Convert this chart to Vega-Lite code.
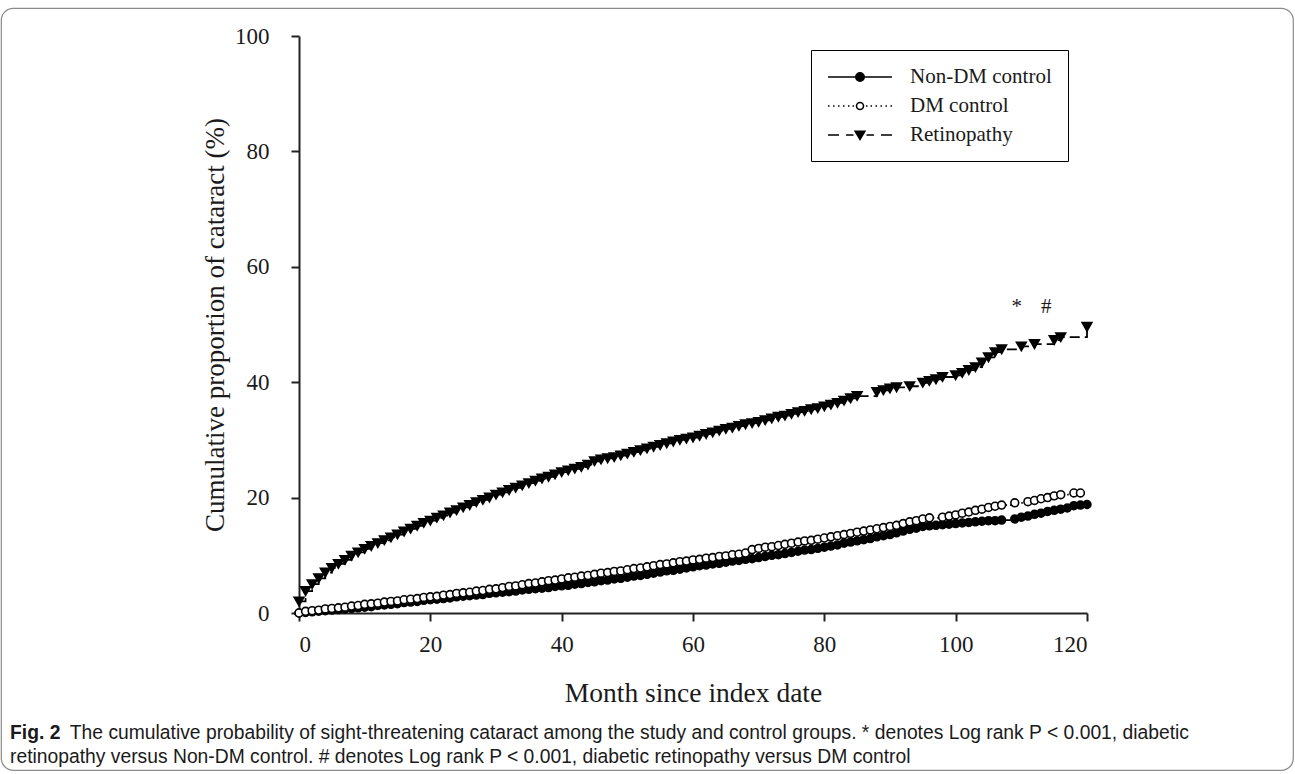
{
  "$schema": "https://vega.github.io/schema/vega-lite/v6.json",
  "width": 1292,
  "height": 762,
  "autosize": {"type": "none"},
  "padding": {"left": 1, "top": 8, "right": 2, "bottom": 4},
  "background": "white",
  "config": {
    "view": {"stroke": "#8a8a8a", "strokeWidth": 1.2, "cornerRadius": 12, "fill": "white"},
    "font": "Liberation Serif"
  },
  "datasets": {
    "curves": [
      {"group":"Non-DM control","month":0,"pct":0.0},{"group":"Non-DM control","month":1,"pct":0.1},{"group":"Non-DM control","month":2,"pct":0.2},{"group":"Non-DM control","month":3,"pct":0.3},{"group":"Non-DM control","month":4,"pct":0.4},{"group":"Non-DM control","month":5,"pct":0.5},{"group":"Non-DM control","month":6,"pct":0.6},{"group":"Non-DM control","month":7,"pct":0.7},{"group":"Non-DM control","month":8,"pct":0.8},{"group":"Non-DM control","month":9,"pct":0.9},
      {"group":"Non-DM control","month":10,"pct":1.0},{"group":"Non-DM control","month":11,"pct":1.1},{"group":"Non-DM control","month":12,"pct":1.3},{"group":"Non-DM control","month":13,"pct":1.4},{"group":"Non-DM control","month":14,"pct":1.5},{"group":"Non-DM control","month":15,"pct":1.6},{"group":"Non-DM control","month":16,"pct":1.8},{"group":"Non-DM control","month":17,"pct":1.9},{"group":"Non-DM control","month":18,"pct":2.0},{"group":"Non-DM control","month":19,"pct":2.2},
      {"group":"Non-DM control","month":20,"pct":2.3},{"group":"Non-DM control","month":21,"pct":2.4},{"group":"Non-DM control","month":22,"pct":2.5},{"group":"Non-DM control","month":23,"pct":2.6},{"group":"Non-DM control","month":24,"pct":2.8},{"group":"Non-DM control","month":25,"pct":2.9},{"group":"Non-DM control","month":26,"pct":3.0},{"group":"Non-DM control","month":27,"pct":3.1},{"group":"Non-DM control","month":28,"pct":3.2},{"group":"Non-DM control","month":29,"pct":3.4},
      {"group":"Non-DM control","month":30,"pct":3.5},{"group":"Non-DM control","month":31,"pct":3.6},{"group":"Non-DM control","month":32,"pct":3.7},{"group":"Non-DM control","month":33,"pct":3.8},{"group":"Non-DM control","month":34,"pct":4.0},{"group":"Non-DM control","month":35,"pct":4.1},{"group":"Non-DM control","month":36,"pct":4.2},{"group":"Non-DM control","month":37,"pct":4.3},{"group":"Non-DM control","month":38,"pct":4.4},{"group":"Non-DM control","month":39,"pct":4.6},
      {"group":"Non-DM control","month":40,"pct":4.7},{"group":"Non-DM control","month":41,"pct":4.8},{"group":"Non-DM control","month":42,"pct":5.0},{"group":"Non-DM control","month":43,"pct":5.1},{"group":"Non-DM control","month":44,"pct":5.3},{"group":"Non-DM control","month":45,"pct":5.4},{"group":"Non-DM control","month":46,"pct":5.6},{"group":"Non-DM control","month":47,"pct":5.7},{"group":"Non-DM control","month":48,"pct":5.9},{"group":"Non-DM control","month":49,"pct":6.0},
      {"group":"Non-DM control","month":50,"pct":6.2},{"group":"Non-DM control","month":51,"pct":6.4},{"group":"Non-DM control","month":52,"pct":6.5},{"group":"Non-DM control","month":53,"pct":6.7},{"group":"Non-DM control","month":54,"pct":6.9},{"group":"Non-DM control","month":55,"pct":7.1},{"group":"Non-DM control","month":56,"pct":7.3},{"group":"Non-DM control","month":57,"pct":7.4},{"group":"Non-DM control","month":58,"pct":7.6},{"group":"Non-DM control","month":59,"pct":7.8},
      {"group":"Non-DM control","month":60,"pct":8.0},{"group":"Non-DM control","month":61,"pct":8.2},{"group":"Non-DM control","month":62,"pct":8.3},{"group":"Non-DM control","month":63,"pct":8.5},{"group":"Non-DM control","month":64,"pct":8.6},{"group":"Non-DM control","month":65,"pct":8.8},{"group":"Non-DM control","month":66,"pct":9.0},{"group":"Non-DM control","month":67,"pct":9.1},{"group":"Non-DM control","month":68,"pct":9.3},{"group":"Non-DM control","month":69,"pct":9.4},
      {"group":"Non-DM control","month":70,"pct":9.6},{"group":"Non-DM control","month":71,"pct":9.8},{"group":"Non-DM control","month":72,"pct":10.0},{"group":"Non-DM control","month":73,"pct":10.1},{"group":"Non-DM control","month":74,"pct":10.3},{"group":"Non-DM control","month":75,"pct":10.5},{"group":"Non-DM control","month":76,"pct":10.7},{"group":"Non-DM control","month":77,"pct":10.9},{"group":"Non-DM control","month":78,"pct":11.0},{"group":"Non-DM control","month":79,"pct":11.2},
      {"group":"Non-DM control","month":80,"pct":11.4},{"group":"Non-DM control","month":81,"pct":11.6},{"group":"Non-DM control","month":82,"pct":11.8},{"group":"Non-DM control","month":83,"pct":12.1},{"group":"Non-DM control","month":84,"pct":12.3},{"group":"Non-DM control","month":85,"pct":12.5},{"group":"Non-DM control","month":86,"pct":12.7},{"group":"Non-DM control","month":87,"pct":12.9},{"group":"Non-DM control","month":88,"pct":13.2},{"group":"Non-DM control","month":89,"pct":13.4},
      {"group":"Non-DM control","month":90,"pct":13.6},{"group":"Non-DM control","month":91,"pct":13.9},{"group":"Non-DM control","month":92,"pct":14.2},{"group":"Non-DM control","month":93,"pct":14.5},{"group":"Non-DM control","month":94,"pct":14.7},{"group":"Non-DM control","month":95,"pct":15.0},{"group":"Non-DM control","month":96,"pct":15.1},{"group":"Non-DM control","month":97,"pct":15.2},{"group":"Non-DM control","month":98,"pct":15.3},{"group":"Non-DM control","month":99,"pct":15.4},
      {"group":"Non-DM control","month":100,"pct":15.5},{"group":"Non-DM control","month":101,"pct":15.6},{"group":"Non-DM control","month":102,"pct":15.7},{"group":"Non-DM control","month":103,"pct":15.8},{"group":"Non-DM control","month":104,"pct":15.9},{"group":"Non-DM control","month":105,"pct":16.0},{"group":"Non-DM control","month":106,"pct":16.0},{"group":"Non-DM control","month":107,"pct":16.1},{"group":"Non-DM control","month":109,"pct":16.3},
      {"group":"Non-DM control","month":110,"pct":16.6},{"group":"Non-DM control","month":111,"pct":16.8},{"group":"Non-DM control","month":112,"pct":17.1},{"group":"Non-DM control","month":113,"pct":17.3},{"group":"Non-DM control","month":114,"pct":17.6},{"group":"Non-DM control","month":115,"pct":17.8},{"group":"Non-DM control","month":116,"pct":18.0},{"group":"Non-DM control","month":117,"pct":18.2},{"group":"Non-DM control","month":118,"pct":18.6},{"group":"Non-DM control","month":119,"pct":18.7},{"group":"Non-DM control","month":120,"pct":18.8},

      {"group":"DM control","month":0,"pct":0.0},{"group":"DM control","month":1,"pct":0.3},{"group":"DM control","month":2,"pct":0.4},{"group":"DM control","month":3,"pct":0.5},{"group":"DM control","month":4,"pct":0.7},{"group":"DM control","month":5,"pct":0.8},{"group":"DM control","month":6,"pct":0.9},{"group":"DM control","month":7,"pct":1.0},{"group":"DM control","month":8,"pct":1.2},{"group":"DM control","month":9,"pct":1.3},
      {"group":"DM control","month":10,"pct":1.5},{"group":"DM control","month":11,"pct":1.6},{"group":"DM control","month":12,"pct":1.7},{"group":"DM control","month":13,"pct":1.9},{"group":"DM control","month":14,"pct":2.0},{"group":"DM control","month":15,"pct":2.1},{"group":"DM control","month":16,"pct":2.3},{"group":"DM control","month":17,"pct":2.4},{"group":"DM control","month":18,"pct":2.5},{"group":"DM control","month":19,"pct":2.7},
      {"group":"DM control","month":20,"pct":2.8},{"group":"DM control","month":21,"pct":2.9},{"group":"DM control","month":22,"pct":3.1},{"group":"DM control","month":23,"pct":3.2},{"group":"DM control","month":24,"pct":3.4},{"group":"DM control","month":25,"pct":3.5},{"group":"DM control","month":26,"pct":3.6},{"group":"DM control","month":27,"pct":3.8},{"group":"DM control","month":28,"pct":3.9},{"group":"DM control","month":29,"pct":4.1},
      {"group":"DM control","month":30,"pct":4.2},{"group":"DM control","month":31,"pct":4.4},{"group":"DM control","month":32,"pct":4.6},{"group":"DM control","month":33,"pct":4.7},{"group":"DM control","month":34,"pct":4.9},{"group":"DM control","month":35,"pct":5.1},{"group":"DM control","month":36,"pct":5.2},{"group":"DM control","month":37,"pct":5.4},{"group":"DM control","month":38,"pct":5.6},{"group":"DM control","month":39,"pct":5.7},
      {"group":"DM control","month":40,"pct":5.9},{"group":"DM control","month":41,"pct":6.1},{"group":"DM control","month":42,"pct":6.2},{"group":"DM control","month":43,"pct":6.4},{"group":"DM control","month":44,"pct":6.5},{"group":"DM control","month":45,"pct":6.7},{"group":"DM control","month":46,"pct":6.9},{"group":"DM control","month":47,"pct":7.0},{"group":"DM control","month":48,"pct":7.2},{"group":"DM control","month":49,"pct":7.3},
      {"group":"DM control","month":50,"pct":7.5},{"group":"DM control","month":51,"pct":7.7},{"group":"DM control","month":52,"pct":7.8},{"group":"DM control","month":53,"pct":8.0},{"group":"DM control","month":54,"pct":8.2},{"group":"DM control","month":55,"pct":8.4},{"group":"DM control","month":56,"pct":8.5},{"group":"DM control","month":57,"pct":8.7},{"group":"DM control","month":58,"pct":8.9},{"group":"DM control","month":59,"pct":9.0},
      {"group":"DM control","month":60,"pct":9.2},{"group":"DM control","month":61,"pct":9.3},{"group":"DM control","month":62,"pct":9.5},{"group":"DM control","month":63,"pct":9.6},{"group":"DM control","month":64,"pct":9.8},{"group":"DM control","month":65,"pct":9.9},{"group":"DM control","month":66,"pct":10.1},{"group":"DM control","month":67,"pct":10.2},{"group":"DM control","month":68,"pct":10.4},{"group":"DM control","month":69,"pct":11.0},
      {"group":"DM control","month":70,"pct":11.2},{"group":"DM control","month":71,"pct":11.4},{"group":"DM control","month":72,"pct":11.5},{"group":"DM control","month":73,"pct":11.7},{"group":"DM control","month":74,"pct":11.9},{"group":"DM control","month":75,"pct":12.1},{"group":"DM control","month":76,"pct":12.3},{"group":"DM control","month":77,"pct":12.5},{"group":"DM control","month":78,"pct":12.6},{"group":"DM control","month":79,"pct":12.8},
      {"group":"DM control","month":80,"pct":13.0},{"group":"DM control","month":81,"pct":13.2},{"group":"DM control","month":82,"pct":13.4},{"group":"DM control","month":83,"pct":13.6},{"group":"DM control","month":84,"pct":13.8},{"group":"DM control","month":85,"pct":14.0},{"group":"DM control","month":86,"pct":14.2},{"group":"DM control","month":87,"pct":14.4},{"group":"DM control","month":88,"pct":14.6},{"group":"DM control","month":89,"pct":14.8},
      {"group":"DM control","month":90,"pct":15.0},{"group":"DM control","month":91,"pct":15.2},{"group":"DM control","month":92,"pct":15.5},{"group":"DM control","month":93,"pct":15.8},{"group":"DM control","month":94,"pct":16.0},{"group":"DM control","month":95,"pct":16.3},{"group":"DM control","month":96,"pct":16.5},{"group":"DM control","month":98,"pct":16.6},{"group":"DM control","month":99,"pct":16.8},
      {"group":"DM control","month":100,"pct":17.0},{"group":"DM control","month":101,"pct":17.3},{"group":"DM control","month":102,"pct":17.5},{"group":"DM control","month":103,"pct":17.8},{"group":"DM control","month":104,"pct":18.0},{"group":"DM control","month":105,"pct":18.3},{"group":"DM control","month":106,"pct":18.5},{"group":"DM control","month":107,"pct":18.7},{"group":"DM control","month":109,"pct":19.1},
      {"group":"DM control","month":111,"pct":19.3},{"group":"DM control","month":112,"pct":19.5},{"group":"DM control","month":113,"pct":19.8},{"group":"DM control","month":114,"pct":20.0},{"group":"DM control","month":115,"pct":20.3},{"group":"DM control","month":116,"pct":20.5},{"group":"DM control","month":118,"pct":20.8},{"group":"DM control","month":119,"pct":20.8},

      {"group":"Retinopathy","month":0,"pct":2.0},{"group":"Retinopathy","month":1,"pct":3.8},{"group":"Retinopathy","month":2,"pct":5.0},{"group":"Retinopathy","month":3,"pct":6.0},{"group":"Retinopathy","month":4,"pct":7.0},{"group":"Retinopathy","month":5,"pct":7.8},{"group":"Retinopathy","month":6,"pct":8.5},{"group":"Retinopathy","month":7,"pct":9.2},{"group":"Retinopathy","month":8,"pct":9.9},{"group":"Retinopathy","month":9,"pct":10.5},
      {"group":"Retinopathy","month":10,"pct":11.1},{"group":"Retinopathy","month":11,"pct":11.6},{"group":"Retinopathy","month":12,"pct":12.1},{"group":"Retinopathy","month":13,"pct":12.6},{"group":"Retinopathy","month":14,"pct":13.1},{"group":"Retinopathy","month":15,"pct":13.6},{"group":"Retinopathy","month":16,"pct":14.1},{"group":"Retinopathy","month":17,"pct":14.6},{"group":"Retinopathy","month":18,"pct":15.1},{"group":"Retinopathy","month":19,"pct":15.6},
      {"group":"Retinopathy","month":20,"pct":16.0},{"group":"Retinopathy","month":21,"pct":16.5},{"group":"Retinopathy","month":22,"pct":16.9},{"group":"Retinopathy","month":23,"pct":17.4},{"group":"Retinopathy","month":24,"pct":17.8},{"group":"Retinopathy","month":25,"pct":18.3},{"group":"Retinopathy","month":26,"pct":18.7},{"group":"Retinopathy","month":27,"pct":19.2},{"group":"Retinopathy","month":28,"pct":19.6},{"group":"Retinopathy","month":29,"pct":20.0},
      {"group":"Retinopathy","month":30,"pct":20.5},{"group":"Retinopathy","month":31,"pct":20.9},{"group":"Retinopathy","month":32,"pct":21.3},{"group":"Retinopathy","month":33,"pct":21.7},{"group":"Retinopathy","month":34,"pct":22.1},{"group":"Retinopathy","month":35,"pct":22.5},{"group":"Retinopathy","month":36,"pct":22.9},{"group":"Retinopathy","month":37,"pct":23.3},{"group":"Retinopathy","month":38,"pct":23.6},{"group":"Retinopathy","month":39,"pct":24.0},
      {"group":"Retinopathy","month":40,"pct":24.4},{"group":"Retinopathy","month":41,"pct":24.7},{"group":"Retinopathy","month":42,"pct":25.0},{"group":"Retinopathy","month":43,"pct":25.3},{"group":"Retinopathy","month":44,"pct":25.7},{"group":"Retinopathy","month":45,"pct":26.3},{"group":"Retinopathy","month":46,"pct":26.6},{"group":"Retinopathy","month":47,"pct":26.8},{"group":"Retinopathy","month":48,"pct":27.0},{"group":"Retinopathy","month":49,"pct":27.3},
      {"group":"Retinopathy","month":50,"pct":27.6},{"group":"Retinopathy","month":51,"pct":27.9},{"group":"Retinopathy","month":52,"pct":28.2},{"group":"Retinopathy","month":53,"pct":28.5},{"group":"Retinopathy","month":54,"pct":28.8},{"group":"Retinopathy","month":55,"pct":29.1},{"group":"Retinopathy","month":56,"pct":29.4},{"group":"Retinopathy","month":57,"pct":29.7},{"group":"Retinopathy","month":58,"pct":30.0},{"group":"Retinopathy","month":59,"pct":30.2},
      {"group":"Retinopathy","month":60,"pct":30.4},{"group":"Retinopathy","month":61,"pct":30.7},{"group":"Retinopathy","month":62,"pct":31.0},{"group":"Retinopathy","month":63,"pct":31.3},{"group":"Retinopathy","month":64,"pct":31.6},{"group":"Retinopathy","month":65,"pct":31.9},{"group":"Retinopathy","month":66,"pct":32.1},{"group":"Retinopathy","month":67,"pct":32.4},{"group":"Retinopathy","month":68,"pct":32.7},{"group":"Retinopathy","month":69,"pct":32.9},
      {"group":"Retinopathy","month":70,"pct":33.1},{"group":"Retinopathy","month":71,"pct":33.4},{"group":"Retinopathy","month":72,"pct":33.7},{"group":"Retinopathy","month":73,"pct":34.0},{"group":"Retinopathy","month":74,"pct":34.2},{"group":"Retinopathy","month":75,"pct":34.5},{"group":"Retinopathy","month":76,"pct":34.8},{"group":"Retinopathy","month":77,"pct":35.0},{"group":"Retinopathy","month":78,"pct":35.3},{"group":"Retinopathy","month":79,"pct":35.5},
      {"group":"Retinopathy","month":80,"pct":35.8},{"group":"Retinopathy","month":81,"pct":36.1},{"group":"Retinopathy","month":82,"pct":36.4},{"group":"Retinopathy","month":83,"pct":36.8},{"group":"Retinopathy","month":84,"pct":37.2},{"group":"Retinopathy","month":85,"pct":37.6},{"group":"Retinopathy","month":88,"pct":38.3},{"group":"Retinopathy","month":89,"pct":38.6},
      {"group":"Retinopathy","month":90,"pct":38.9},{"group":"Retinopathy","month":91,"pct":39.1},{"group":"Retinopathy","month":93,"pct":39.3},{"group":"Retinopathy","month":95,"pct":39.9},{"group":"Retinopathy","month":96,"pct":40.2},{"group":"Retinopathy","month":97,"pct":40.5},{"group":"Retinopathy","month":98,"pct":40.9},
      {"group":"Retinopathy","month":100,"pct":41.2},{"group":"Retinopathy","month":101,"pct":41.6},{"group":"Retinopathy","month":102,"pct":42.1},{"group":"Retinopathy","month":103,"pct":42.6},{"group":"Retinopathy","month":104,"pct":43.4},{"group":"Retinopathy","month":105,"pct":44.3},{"group":"Retinopathy","month":106,"pct":45.2},{"group":"Retinopathy","month":107,"pct":45.7},
      {"group":"Retinopathy","month":110,"pct":46.2},{"group":"Retinopathy","month":112,"pct":46.6},{"group":"Retinopathy","month":115,"pct":47.3},{"group":"Retinopathy","month":116,"pct":47.8},{"group":"Retinopathy","month":120,"pct":49.6}
    ],
    "signif": [
      {"label": "*", "month": 109.3, "pct": 53.0},
      {"label": "#", "month": 113.8, "pct": 53.0}
    ],
    "figlabel": [
      {"label": "Fig. 2", "month": -44.0, "pct": -20.8}
    ],
    "caption": [
      {"label": "The cumulative probability of sight-threatening cataract among the study and control groups. * denotes Log rank P < 0.001, diabetic", "month": -34.9, "pct": -20.8},
      {"label": "retinopathy versus Non-DM control. # denotes Log rank P < 0.001, diabetic retinopathy versus DM control", "month": -44.0, "pct": -25.0}
    ]
  },
  "layer": [
    {
      "data": {"name": "curves"},
      "mark": {"type": "line", "interpolate": "step-after", "stroke": "black", "strokeWidth": 1.8},
      "encoding": {
        "x": {
          "field": "month", "type": "quantitative",
          "scale": {"domain": [0, 120], "range": [298, 1086]},
          "axis": {
            "values": [0, 20, 40, 60, 80, 100, 120],
            "title": "Month since index date",
            "offset": -157,
            "grid": false,
            "domainColor": "#222", "domainWidth": 2,
            "tickColor": "#222", "tickWidth": 2, "tickSize": 8,
            "labelFont": "Liberation Serif", "labelFontSize": 23, "labelColor": "#1a1a1a", "labelPadding": 12,
            "titleFont": "Liberation Serif", "titleFontSize": 27.5, "titleFontWeight": "normal", "titleColor": "#1a1a1a",
            "titleY": 80, "titleBaseline": "middle"
          }
        },
        "y": {
          "field": "pct", "type": "quantitative",
          "scale": {"domain": [0, 100], "range": [605, 28]},
          "axis": {
            "values": [0, 20, 40, 60, 80, 100],
            "title": "Cumulative proportion of cataract (%)",
            "offset": -298,
            "grid": false,
            "domainColor": "#222", "domainWidth": 2,
            "tickColor": "#222", "tickWidth": 2, "tickSize": 8,
            "labelFont": "Liberation Serif", "labelFontSize": 23, "labelColor": "#1a1a1a", "labelPadding": 22,
            "titleFont": "Liberation Serif", "titleFontSize": 27, "titleFontWeight": "normal", "titleColor": "#1a1a1a",
            "titleX": -84, "titleBaseline": "middle"
          }
        },
        "detail": {"field": "group", "type": "nominal"},
        "strokeDash": {
          "condition": [
            {"test": "datum.group === 'DM control'", "value": [1.5, 3]},
            {"test": "datum.group === 'Retinopathy'", "value": [10, 5]}
          ],
          "value": [1, 0]
        }
      }
    },
    {
      "data": {"name": "curves"},
      "mark": {"type": "point", "stroke": "black", "strokeWidth": 1.6, "opacity": 1},
      "encoding": {
        "x": {"field": "month", "type": "quantitative"},
        "y": {"field": "pct", "type": "quantitative"},
        "fill": {
          "condition": {"test": "datum.group === 'DM control'", "value": "white"},
          "value": "black"
        },
        "size": {
          "condition": {"test": "datum.group === 'Retinopathy'", "value": 95},
          "value": 62
        },
        "shape": {
          "condition": {"test": "datum.group === 'Retinopathy'", "value": "triangle-down"},
          "value": "circle"
        }
      }
    },
    {
      "data": {"name": "curves"},
      "transform": [{"filter": "false"}],
      "mark": {"type": "point", "strokeWidth": 1.6, "opacity": 1, "size": 400},
      "encoding": {
        "x": {"field": "month", "type": "quantitative"},
        "y": {"field": "pct", "type": "quantitative"},
        "fill": {
          "field": "group", "type": "nominal",
          "scale": {"domain": ["Non-DM control", "DM control", "Retinopathy"], "range": ["black", "white", "black"]},
          "legend": {
            "orient": "none", "legendX": 810, "legendY": 42,
            "title": null,
            "strokeColor": "black",
            "padding": 16,
            "symbolSize": 400,
            "symbolOffset": 22,
            "symbolStrokeWidth": 1.6,
            "labelFont": "Liberation Serif", "labelFontSize": 21, "labelColor": "#1a1a1a",
            "labelOffset": 39,
            "rowPadding": 8
          }
        },
        "stroke": {
          "field": "group", "type": "nominal",
          "scale": {"domain": ["Non-DM control", "DM control", "Retinopathy"], "range": ["black", "black", "black"]},
          "legend": {
            "orient": "none", "legendX": 810, "legendY": 42,
            "title": null,
            "strokeColor": "black",
            "padding": 16,
            "symbolSize": 400,
            "symbolOffset": 22,
            "symbolStrokeWidth": 1.6,
            "labelFont": "Liberation Serif", "labelFontSize": 21, "labelColor": "#1a1a1a",
            "labelOffset": 39,
            "rowPadding": 8
          }
        },
        "shape": {
          "field": "group", "type": "nominal",
          "scale": {
            "domain": ["Non-DM control", "DM control", "Retinopathy"],
            "range": [
              "M-3.2,0H3.2M0.42,0A0.42,0.42,0,1,1,-0.42,0A0.42,0.42,0,1,1,0.42,0Z",
              "M-3.2,0h0.15M-2.7,0h0.15M-2.2,0h0.15M-1.7,0h0.15M-1.2,0h0.15M-0.75,0h0.15M0.6,0h0.15M1.05,0h0.15M1.55,0h0.15M2.05,0h0.15M2.55,0h0.15M3.05,0h0.15M0.35,0A0.35,0.35,0,1,1,-0.35,0A0.35,0.35,0,1,1,0.35,0Z",
              "M-3.2,0H-2.1M-1.4,0H-0.65M0.65,0H1.4M2.1,0H3.2M-0.48,-0.38L0.48,-0.38L0,0.45Z"
            ]
          },
          "legend": {
            "orient": "none", "legendX": 810, "legendY": 42,
            "title": null,
            "strokeColor": "black",
            "padding": 16,
            "symbolSize": 400,
            "symbolOffset": 22,
            "symbolStrokeWidth": 1.6,
            "labelFont": "Liberation Serif", "labelFontSize": 21, "labelColor": "#1a1a1a",
            "labelOffset": 39,
            "rowPadding": 8
          }
        }
      }
    },
    {
      "data": {"name": "signif"},
      "mark": {"type": "text", "font": "Liberation Serif", "fontSize": 21, "color": "#1a1a1a", "align": "center", "baseline": "middle"},
      "encoding": {
        "x": {"field": "month", "type": "quantitative"},
        "y": {"field": "pct", "type": "quantitative"},
        "text": {"field": "label"}
      }
    },
    {
      "data": {"name": "figlabel"},
      "mark": {"type": "text", "font": "Liberation Sans", "fontSize": 19.3, "fontWeight": "bold", "color": "#1a1a1a", "align": "left", "baseline": "middle"},
      "encoding": {
        "x": {"field": "month", "type": "quantitative"},
        "y": {"field": "pct", "type": "quantitative"},
        "text": {"field": "label"}
      }
    },
    {
      "data": {"name": "caption"},
      "mark": {"type": "text", "font": "Liberation Sans", "fontSize": 19.3, "color": "#1a1a1a", "align": "left", "baseline": "middle"},
      "encoding": {
        "x": {"field": "month", "type": "quantitative"},
        "y": {"field": "pct", "type": "quantitative"},
        "text": {"field": "label"}
      }
    }
  ]
}
